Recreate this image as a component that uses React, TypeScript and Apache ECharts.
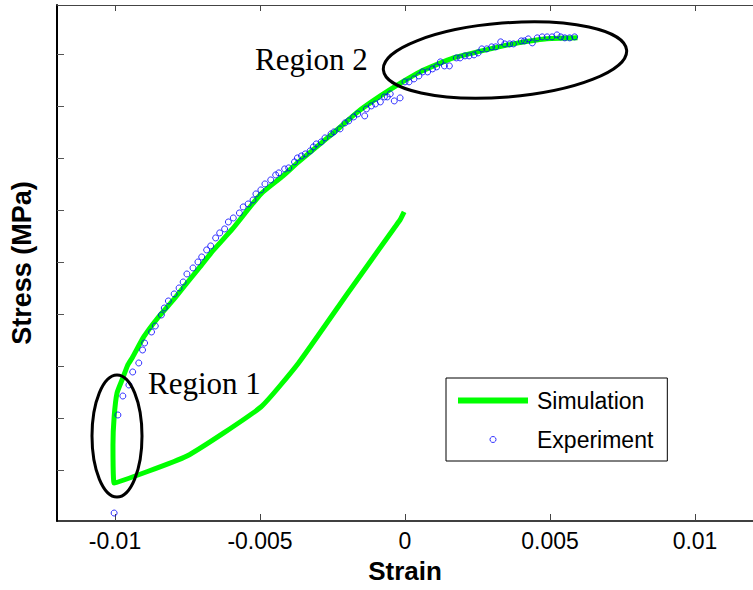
import React, { useEffect, useRef } from "react";
import * as echarts from "echarts";

// Tick labels
const strainTicks = [-0.01, -0.005, 0, 0.005, 0.01];
const stressTicks = [0, 1, 2, 3, 4, 5, 6, 7, 8];

// Simulation curve (strain, stress in tick units)
const simulationStrain = [
  -0.00003, -0.00017, -0.00037, -0.00197, -0.00367, -0.00497, -0.00752, -0.01003,
  -0.01007, -0.01003, -0.00993, -0.00973, -0.00956, -0.00939, -0.00901, -0.0085,
  -0.00799, -0.00752, -0.00707, -0.00663, -0.00595, -0.00497, -0.00425, -0.00367,
  -0.00255, -0.00163, -0.00085, -0.00003, 0.00051, 0.00167, 0.00279, 0.00391,
  0.00483, 0.00595,
];
const simulationStress = [
  4.962, 4.808, 4.654, 3.404, 2.058, 1.212, 0.269, -0.25,
  0.481, 1.019, 1.481, 1.769, 2.019, 2.173, 2.558, 2.942,
  3.269, 3.596, 3.904, 4.212, 4.635, 5.308, 5.635, 5.923,
  6.442, 6.885, 7.192, 7.481, 7.654, 7.923, 8.077, 8.212,
  8.288, 8.308,
];

// Experiment points
const experimentStrain = [
  -0.01003, -0.0099, -0.00973, -0.00952, -0.00939, -0.00918, -0.00905, -0.00898,
  -0.00874, -0.00861, -0.0084, -0.0083, -0.00816, -0.00796, -0.00779, -0.00765,
  -0.00752, -0.00731, -0.00714, -0.00701, -0.00684, -0.0067, -0.00653, -0.00639,
  -0.00622, -0.00609, -0.00592, -0.00571, -0.00558, -0.00541, -0.00524, -0.00514,
  -0.00497, -0.00483, -0.00463, -0.00446, -0.00435, -0.00415, -0.00401, -0.00381,
  -0.00371, -0.00357, -0.00344, -0.00327, -0.00316, -0.00306, -0.00289, -0.00276,
  -0.00255, -0.00245, -0.00224, -0.00207, -0.00194, -0.00177, -0.00163, -0.00139,
  -0.00133, -0.00116, -0.00102, -0.00085, -0.00071, -0.00061, -0.00051, -0.00037,
  -0.00017, 0.0, 0.00014, 0.00031, 0.00048, 0.00061, 0.00078, 0.00095,
  0.00109, 0.00122, 0.00136, 0.00153, 0.00177, 0.0019, 0.00207, 0.00221,
  0.00238, 0.00252, 0.00265, 0.00282, 0.00299, 0.00313, 0.0033, 0.00344,
  0.00361, 0.00374, 0.00401, 0.00412, 0.00425, 0.00439, 0.00456, 0.00473,
  0.0049, 0.00507, 0.00524, 0.00537, 0.00551, 0.00568, 0.00585,
];
const experimentStress = [
  -0.827, 1.058, 1.423, 1.635, 1.885, 2.058, 2.308, 2.442,
  2.654, 2.769, 2.981, 3.115, 3.25, 3.385, 3.5, 3.615,
  3.769, 3.885, 4.0, 4.096, 4.231, 4.308, 4.462, 4.558,
  4.635, 4.769, 4.846, 4.942, 5.058, 5.115, 5.192, 5.308,
  5.385, 5.5, 5.577, 5.673, 5.712, 5.788, 5.808, 5.923,
  6.0, 6.038, 6.077, 6.135, 6.212, 6.269, 6.308, 6.385,
  6.462, 6.5, 6.558, 6.673, 6.712, 6.788, 6.846, 6.808,
  6.942, 7.0, 7.038, 7.077, 7.173, 7.173, 7.231, 7.096,
  7.154, 7.462, 7.462, 7.519, 7.577, 7.654, 7.654, 7.712,
  7.75, 7.846, 7.769, 7.769, 7.923, 7.923, 7.962, 7.962,
  7.981, 8.019, 8.096, 8.096, 8.135, 8.135, 8.231, 8.192,
  8.192, 8.192, 8.25, 8.25, 8.288, 8.212, 8.308, 8.327,
  8.327, 8.327, 8.365, 8.327, 8.308, 8.308, 8.327,
];

const SANS = '"Liberation Sans", Arial, sans-serif';
const SERIF = '"Liberation Serif", "Times New Roman", serif';

export default function App() {
  const ref = useRef<HTMLDivElement>(null);
  useEffect(() => {
    if (!ref.current) return;
    const chart = echarts.init(ref.current, null, { renderer: "svg" });
    const simData = simulationStrain.map((x, i) => [x, simulationStress[i]]);
    const expData = experimentStrain.map((x, i) => [x, experimentStress[i]]);
    chart.setOption({
      animation: false,
      backgroundColor: "#fff",
      grid: { left: 56, top: 5, right: -8, bottom: 69, containLabel: false },
      xAxis: [
        {
          type: "value",
          position: "bottom",
          min: -0.012,
          max: 0.012,
          name: "Strain",
          nameLocation: "middle",
          nameGap: 37,
          nameTextStyle: { fontFamily: SANS, fontWeight: "bold", fontSize: 26, color: "#000" },
          axisLine: { show: true, onZero: false, lineStyle: { color: "#000", width: 1.5 } },
          axisTick: { show: true, inside: true, length: 7, lineStyle: { color: "#444", width: 1 }, customValues: strainTicks },
          axisLabel: {
            show: true,
            margin: 8,
            fontFamily: SANS,
            fontSize: 23,
            color: "#000",
            customValues: strainTicks,
            formatter: (v: number) => String(+v.toFixed(4)),
          },
          splitLine: { show: false },
        },
        {
          type: "value",
          position: "top",
          min: -0.012,
          max: 0.012,
          axisLine: { show: true, onZero: false, lineStyle: { color: "#444", width: 1 } },
          axisTick: { show: true, inside: true, length: 6, lineStyle: { color: "#444", width: 1 }, customValues: strainTicks },
          axisLabel: { show: false },
          splitLine: { show: false },
        },
      ],
      yAxis: [
        {
          type: "value",
          min: -0.98,
          max: 8.94,
          name: "Stress (MPa)",
          nameLocation: "middle",
          nameGap: 22,
          nameRotate: 90,
          nameTextStyle: { fontFamily: SANS, fontWeight: "bold", fontSize: 27, color: "#000" },
          axisLine: { show: true, onZero: false, lineStyle: { color: "#000", width: 2 } },
          axisTick: { show: true, inside: true, length: 7, lineStyle: { color: "#555", width: 1 }, customValues: stressTicks },
          axisLabel: { show: false, customValues: stressTicks },
          splitLine: { show: false },
        },
      ],
      legend: {
        left: 446,
        top: 378,
        orient: "vertical",
        padding: [11, 14, 10, 12],
        itemGap: 16,
        itemWidth: 70,
        itemHeight: 6,
        borderColor: "#000",
        borderWidth: 1,
        backgroundColor: "#fff",
        selectedMode: false,
        textStyle: { fontFamily: SANS, fontSize: 23, color: "#000", padding: [0, 0, 0, 4] },
        data: [
          { name: "Simulation", icon: "rect", itemStyle: { color: "#00ff00", borderWidth: 0 } },
          { name: "Experiment", icon: "circle", itemStyle: { color: "transparent", borderColor: "#0000ff", borderWidth: 1 } },
        ],
      },
      series: [
        {
          name: "Simulation",
          type: "line",
          data: simData,
          showSymbol: false,
          symbol: "none",
          smooth: 0.15,
          lineStyle: { color: "#00ff00", width: 5, join: "round" },
          itemStyle: { color: "#00ff00" },
          z: 2,
        },
        {
          name: "Experiment",
          type: "scatter",
          data: expData,
          symbol: "circle",
          symbolSize: 6,
          itemStyle: { color: "transparent", borderColor: "#0000ff", borderWidth: 1 },
          z: 3,
        },
      ],
      graphic: [
        {
          type: "ellipse",
          x: 117,
          y: 436,
          shape: { cx: 0, cy: 0, rx: 25, ry: 61 },
          style: { fill: "none", stroke: "#000", lineWidth: 3 },
          z: 100,
        },
        {
          type: "ellipse",
          x: 505,
          y: 60,
          rotation: 0.08,
          shape: { cx: 0, cy: 0, rx: 122, ry: 37 },
          style: { fill: "none", stroke: "#000", lineWidth: 3 },
          z: 100,
        },
        {
          type: "text",
          x: 148,
          y: 383,
          style: { text: "Region 1", fontFamily: SERIF, fontSize: 31, fill: "#000", verticalAlign: "middle", align: "left" },
          z: 100,
        },
        {
          type: "text",
          x: 255,
          y: 59,
          style: { text: "Region 2", fontFamily: SERIF, fontSize: 31, fill: "#000", verticalAlign: "middle", align: "left" },
          z: 100,
        },
      ],
    });
    return () => chart.dispose();
  }, []);
  return (
    <div
      ref={ref}
      style={{ position: "fixed", left: 0, top: 0, width: 753, height: 590, background: "#fff" }}
    />
  );
}
